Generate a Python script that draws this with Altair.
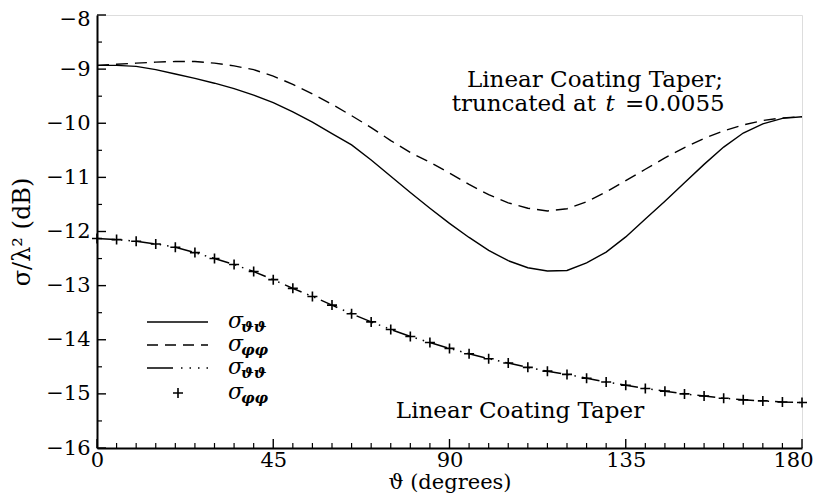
import altair as alt
import pandas as pd

# ---- data ----
theta = list(range(0, 181, 5))

trunc_tt = [-8.93, -8.93, -8.95, -9.01, -9.09, -9.17, -9.26, -9.36, -9.48, -9.62,
            -9.79, -9.98, -10.19, -10.40, -10.68, -10.98, -11.28, -11.57, -11.85, -12.11,
            -12.35, -12.54, -12.67, -12.73, -12.72, -12.58, -12.38, -12.10, -11.77, -11.44,
            -11.10, -10.76, -10.44, -10.18, -10.01, -9.91, -9.88]

trunc_pp = [-8.93, -8.91, -8.89, -8.87, -8.86, -8.86, -8.89, -8.94, -9.01, -9.13,
            -9.28, -9.46, -9.65, -9.86, -10.08, -10.32, -10.54, -10.72, -10.92, -11.13,
            -11.32, -11.47, -11.57, -11.62, -11.58, -11.45, -11.27, -11.06, -10.85, -10.64,
            -10.45, -10.28, -10.14, -10.03, -9.95, -9.90, -9.88]

linear_tt = [-12.13, -12.15, -12.18, -12.23, -12.29, -12.39, -12.50, -12.61, -12.74, -12.89,
             -13.05, -13.20, -13.36, -13.52, -13.67, -13.81, -13.94, -14.05, -14.16, -14.26,
             -14.35, -14.43, -14.51, -14.58, -14.64, -14.71, -14.78, -14.84, -14.90, -14.95,
             -15.00, -15.04, -15.08, -15.11, -15.13, -15.15, -15.16]

linear_pp = [-12.13, -12.15, -12.18, -12.23, -12.29, -12.39, -12.50, -12.61, -12.74, -12.89,
             -13.05, -13.20, -13.36, -13.52, -13.67, -13.81, -13.94, -14.05, -14.16, -14.26,
             -14.35, -14.43, -14.51, -14.58, -14.64, -14.71, -14.78, -14.84, -14.90, -14.95,
             -15.00, -15.04, -15.08, -15.11, -15.13, -15.15, -15.16]

x_major = [0, 45, 90, 135, 180]
x_minor = [v for v in range(5, 180, 5) if v % 45 != 0]
y_major = [-16, -15, -14, -13, -12, -11, -10, -9, -8]
y_minor = [-15.5, -14.5, -13.5, -12.5, -11.5, -10.5, -9.5, -8.5]

FONT = "DejaVu Serif"
W, H = 705, 433

df = pd.DataFrame({"theta": theta, "tt": trunc_tt, "pp": trunc_pp,
                   "ltt": linear_tt, "lpp": linear_pp})

xs = alt.Scale(domain=[0, 180], nice=False, zero=False)
ys = alt.Scale(domain=[-16, -8], nice=False, zero=False)

xaxis = alt.Axis(values=x_major, ticks=False, grid=False, domainColor="black",
                 domainWidth=2, labelFont=FONT, labelFontSize=21, labelColor="black",
                 labelPadding=1, labelFlush=False,
                 labelOffset={"condition": {"test": "datum.value == 180", "value": -9}, "value": 0},
                 title="ϑ (degrees)",
                 titleFont=FONT, titleFontSize=21, titleFontWeight="normal",
                 titleColor="black", titleY=23, titleBaseline="top")
yaxis = alt.Axis(values=y_major, ticks=False, grid=False, domainColor="black",
                 domainWidth=2, labelFont=FONT, labelFontSize=21, labelColor="black",
                 labelPadding=7, labelFlush=False,
                 labelOffset={"condition": {"test": "datum.value == -8", "value": 4}, "value": 0},
                 title="σ/λ² (dB)",
                 titleFont=FONT, titleFontSize=24, titleFontWeight="normal",
                 titleColor="black", titleX=-63, titleY=H / 2)

base = alt.Chart(df)

solid = base.mark_line(color="black", strokeWidth=1.4).encode(
    x=alt.X("theta:Q", scale=xs, axis=xaxis),
    y=alt.Y("tt:Q", scale=ys, axis=yaxis))
dashed = base.mark_line(color="black", strokeWidth=1.4, strokeDash=[12, 7]).encode(
    x=alt.X("theta:Q", scale=xs), y=alt.Y("pp:Q", scale=ys))
dashdot = base.mark_line(color="black", strokeWidth=1.5,
                         strokeDash=[18, 6, 1.5, 6, 1.5, 6]).encode(
    x=alt.X("theta:Q", scale=xs), y=alt.Y("ltt:Q", scale=ys))
plus = base.mark_point(shape="M-1,0L1,0M0,-1L0,1", size=100, filled=False,
                       color="black", strokeWidth=1.6, opacity=1).encode(
    x=alt.X("theta:Q", scale=xs), y=alt.Y("lpp:Q", scale=ys))

# inward ticks
xmaj = alt.Chart(pd.DataFrame({"v": x_major})).mark_rule(color="black", strokeWidth=1.4).encode(
    x=alt.X("v:Q", scale=xs), y=alt.value(H), y2=alt.value(H - 9))
xmin = alt.Chart(pd.DataFrame({"v": x_minor})).mark_rule(color="black", strokeWidth=1.2).encode(
    x=alt.X("v:Q", scale=xs), y=alt.value(H), y2=alt.value(H - 5))
ymaj = alt.Chart(pd.DataFrame({"v": y_major})).mark_rule(color="black", strokeWidth=1.4).encode(
    y=alt.Y("v:Q", scale=ys), x=alt.value(0), x2=alt.value(9))
ymin = alt.Chart(pd.DataFrame({"v": y_minor})).mark_rule(color="black", strokeWidth=1.2).encode(
    y=alt.Y("v:Q", scale=ys), x=alt.value(0), x2=alt.value(5))

one = pd.DataFrame({"a": [0]})

# legend (manual)
rows = [307, 330, 353, 378]
leg = []
leg.append(alt.Chart(one).mark_rule(color="black", strokeWidth=1.4).encode(
    x=alt.value(50), x2=alt.value(111), y=alt.value(rows[0])))
leg.append(alt.Chart(one).mark_rule(color="black", strokeWidth=1.4, strokeDash=[11, 7]).encode(
    x=alt.value(50), x2=alt.value(111), y=alt.value(rows[1])))
leg.append(alt.Chart(one).mark_rule(color="black", strokeWidth=1.5,
                                    strokeDash=[26, 8, 1.5, 7, 1.5, 7, 1.5, 7]).encode(
    x=alt.value(50), x2=alt.value(111), y=alt.value(rows[2])))
leg.append(alt.Chart(one).mark_point(shape="M-1,0L1,0M0,-1L0,1", size=100, filled=False,
                                     color="black", strokeWidth=1.6, opacity=1).encode(
    x=alt.value(81), y=alt.value(rows[3])))
subs = ["ϑϑ", "φφ", "ϑϑ", "φφ"]
for r, s in zip(rows, subs):
    leg.append(alt.Chart(one).mark_text(text="σ", font=FONT, fontSize=22, fontStyle="italic",
                                        align="left", baseline="middle", color="black").encode(
        x=alt.value(131), y=alt.value(r - 1)))
    leg.append(alt.Chart(one).mark_text(text=s, font=FONT, fontSize=15, fontStyle="italic",
                                        fontWeight="bold", align="left", baseline="middle",
                                        color="black").encode(
        x=alt.value(144), y=alt.value(r + 5)))

# annotations
def txt(t, x, y, align="left", style="normal"):
    return alt.Chart(one).mark_text(text=t, font=FONT, fontSize=23, fontStyle=style,
                                    align=align, baseline="alphabetic", color="black").encode(
        x=alt.value(x), y=alt.value(y))

ann = [
    txt("Linear Coating Taper;", 498, 72, "center"),
    txt("truncated at", 499, 96, "right"),
    txt("t", 513, 96, "center", "italic"),
    txt("=0.0055", 528, 96, "left"),
    txt("Linear Coating Taper", 423, 403, "center"),
]

chart = alt.layer(xmin, xmaj, ymin, ymaj, solid, dashed, dashdot, plus, *leg, *ann).properties(
    width=W, height=H,
    autosize=alt.AutoSizeParams(type="none"),
    padding={"left": 89, "top": 7, "right": 13, "bottom": 48},
).configure_view(stroke="black", strokeWidth=2).configure(background="white")

chart.save("out.html", embed_options={"renderer": "svg", "actions": False})
